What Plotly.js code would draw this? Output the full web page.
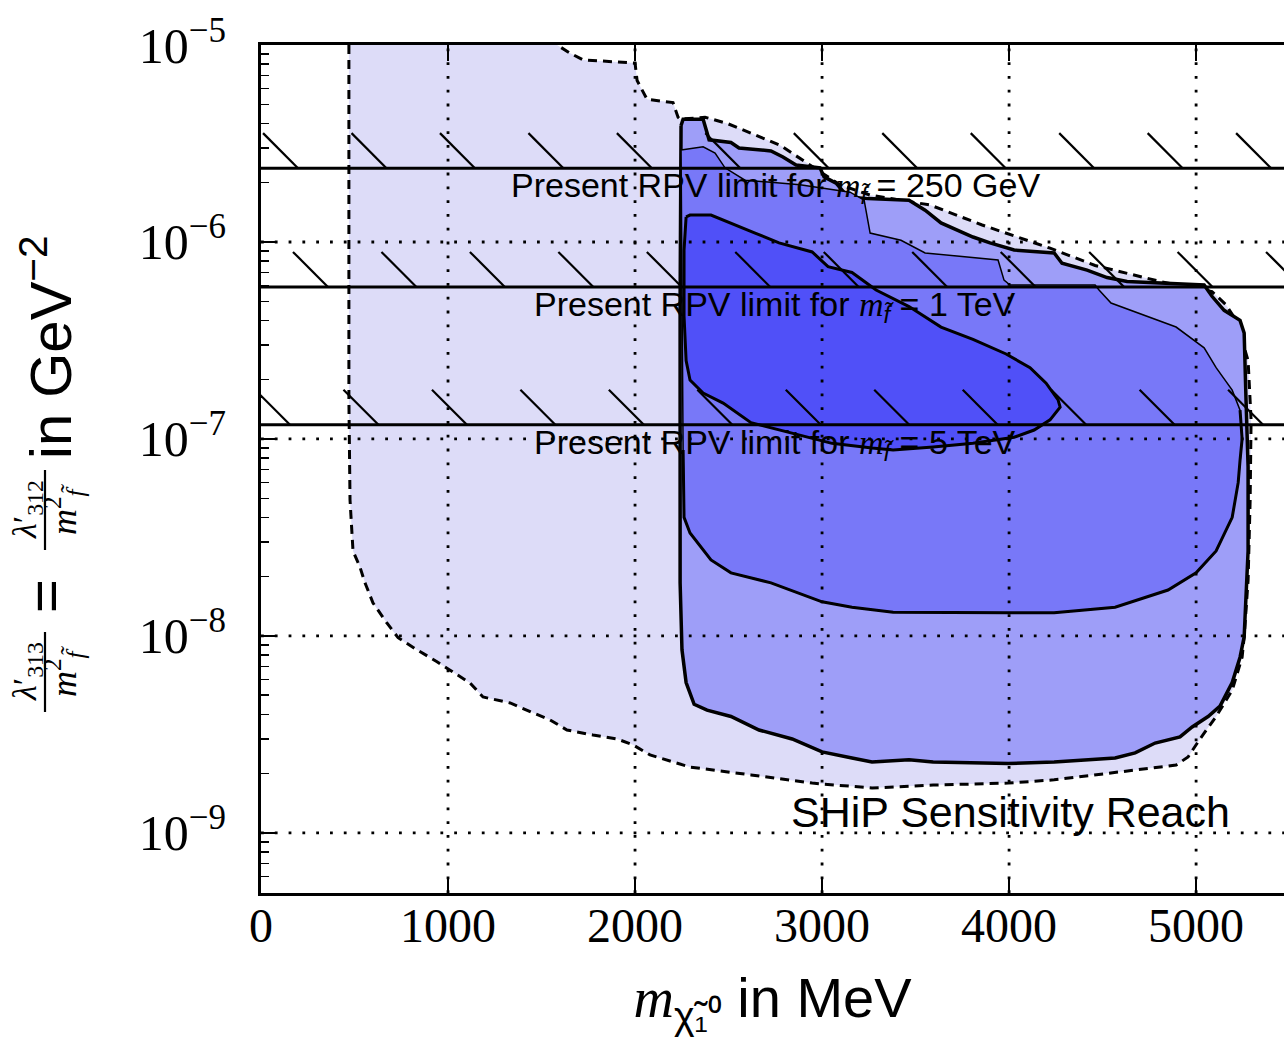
<!DOCTYPE html>
<html>
<head>
<meta charset="utf-8">
<script src="https://cdn.plot.ly/plotly-3.0.1.min.js"></script>
<style>html,body{margin:0;padding:0;background:#fff;overflow:hidden}</style>
</head>
<body>
<div id="chart" style="width:1284px;height:1043px"></div>
<script>
// ---------------- data ----------------
// SHiP sensitivity reach (outermost, dashed, lightest)
const reachX = [470,1560,1583,1652,1722,1904,2000,2011,2064,2203,2230,2241,2374,2492,2775,3096,3257,3578,3856,4219,4460,4808,5085,5160,5214,5278,5294,5289,5278,5257,5246,5193,5107,5021,4957,4893,4567,4241,3995,3594,3267,2947,2620,2294,2080,1989,1904,1775,1636,1545,1455,1332,1187,1118,1011,941,834,733,674,599,556,529,492,476,470,470];
const reachY = [1.2e-5,1.2e-5,1.0e-5,9.1e-6,8.4e-6,8.2e-6,8.1e-6,6.6e-6,5.3e-6,5.1e-6,4.3e-6,4.2e-6,4.3e-6,4.0e-6,3.1e-6,1.95e-6,1.73e-6,1.54e-6,1.22e-6,9.3e-7,7.6e-7,6.3e-7,5.6e-7,4.8e-7,4.0e-7,2.5e-7,1.25e-7,4.9e-8,1.92e-8,9.9e-9,7.8e-9,5.3e-9,3.9e-9,3.0e-9,2.43e-9,2.21e-9,2.02e-9,1.86e-9,1.79e-9,1.75e-9,1.69e-9,1.79e-9,1.97e-9,2.16e-9,2.49e-9,2.8e-9,3.0e-9,3.14e-9,3.33e-9,3.75e-9,4.07e-9,4.57e-9,4.9e-9,5.77e-9,6.7e-9,7.4e-9,8.5e-9,9.8e-9,1.16e-8,1.47e-8,1.86e-8,2.24e-8,2.7e-8,4.9e-8,1.58e-7,1.2e-5];

// outer solid contour
const outerX = [2246,2257,2364,2380,2396,2513,2556,2727,2791,2861,2989,3011,3075,3139,3246,3465,3551,3636,3722,3807,3898,4027,4241,4283,4417,4524,4631,4781,5043,5085,5150,5235,5257,5267,5278,5278,5257,5235,5193,5128,5064,4979,4914,4781,4674,4567,4241,3995,3594,3465,3267,3160,3000,2840,2663,2513,2385,2316,2273,2251,2241,2241,2246];
const outerY = [3.9e-6,4.2e-6,4.2e-6,3.7e-6,3.3e-6,3.2e-6,3.0e-6,2.9e-6,2.7e-6,2.46e-6,2.38e-6,2.14e-6,1.99e-6,1.69e-6,1.66e-6,1.63e-6,1.45e-6,1.25e-6,1.15e-6,1.06e-6,9.9e-7,9.1e-7,8.8e-7,7.8e-7,7.2e-7,6.6e-7,6.3e-7,6.2e-7,6.05e-7,5.3e-7,4.5e-7,4.0e-7,3.45e-7,1.58e-7,7.2e-8,2.7e-8,9.9e-9,7.8e-9,5.8e-9,4.4e-9,3.9e-9,3.45e-9,3.07e-9,2.86e-9,2.55e-9,2.4e-9,2.29e-9,2.25e-9,2.29e-9,2.35e-9,2.29e-9,2.4e-9,2.58e-9,3.0e-9,3.33e-9,3.9e-9,4.2e-9,4.5e-9,5.8e-9,8.5e-9,1.86e-8,5.1e-7,3.9e-6];

// middle contour
const midX = [2246,2364,2428,2481,2588,2882,3150,3225,3257,3422,3551,3941,3973,4005,4460,4481,4545,4674,4893,5043,5107,5193,5235,5246,5235,5225,5193,5107,5000,4850,4567,4241,3995,3594,3380,3160,3000,2727,2513,2406,2294,2262,2257,2246];
const midY = [2.93e-6,3.04e-6,2.83e-6,2.38e-6,2.06e-6,1.95e-6,1.79e-6,1.63e-6,1.11e-6,1.02e-6,8.8e-7,8.1e-7,6.4e-7,6.05e-7,6.05e-7,5.7e-7,4.9e-7,4.4e-7,3.7e-7,2.9e-7,2.3e-7,1.77e-7,1.4e-7,1.0e-7,7.8e-8,6.0e-8,4.0e-8,2.7e-8,2.09e-8,1.71e-8,1.40e-8,1.31e-8,1.31e-8,1.32e-8,1.32e-8,1.40e-8,1.49e-8,1.86e-8,2.09e-8,2.43e-8,3.33e-8,4.0e-8,8.8e-8,2.93e-6];

// inner contour
const innerX = [2273,2294,2406,2513,2642,2770,2947,3032,3160,3289,3465,3636,3807,3984,4112,4198,4262,4273,4219,4134,4027,3807,3594,3380,3267,3053,2840,2620,2471,2364,2294,2273,2262,2262,2273];
const innerY = [1.34e-6,1.37e-6,1.37e-6,1.25e-6,1.11e-6,9.9e-7,8.9e-7,7.5e-7,7.0e-7,5.7e-7,4.7e-7,3.7e-7,3.2e-7,2.7e-7,2.3e-7,1.92e-7,1.58e-7,1.45e-7,1.25e-7,1.11e-7,1.02e-7,9.5e-8,9.1e-8,8.8e-8,9.0e-8,9.5e-8,1.07e-7,1.21e-7,1.52e-7,1.71e-7,1.99e-7,2.5e-7,4.2e-7,9.1e-7,1.34e-6];

// present RPV limits
const limitValues = [2.37e-6, 5.91e-7, 1.18e-7];
const limitLabels = ['250 GeV', '1 TeV', '5 TeV'];

// ticks
const xTickVals = [0, 1000, 2000, 3000, 4000, 5000];
const xTickText = ['0', '1000', '2000', '3000', '4000', '5000'];
const yTickVals = [1e-9, 1e-8, 1e-7, 1e-6, 1e-5];
const yTickText = ['10<sup>\u22129</sup>', '10<sup>\u22128</sup>', '10<sup>\u22127</sup>', '10<sup>\u22126</sup>', '10<sup>\u22125</sup>'];

// ---------------- styles ----------------
const xMax = 5470;
const yLogRange = [-9.305, -5];
const colReach = '#dddcf8', colOuter = '#9e9ef8', colMid = '#7878f8', colInner = '#5050f8';
const hatchSpacing = 473, hatchWidth = 187, hatchRise = 0.178; // MeV, MeV, decades
const hatchPhase = [198, 358, 155];
const midThickStart = 22, midThickEnd = 43;
const serif = 'Liberation Serif, DejaVu Serif, serif';
const sans = 'Liberation Sans, Arial, sans-serif';
const serifM = '<span style="font-family:\'Liberation Serif\',serif"><i>m</i></span>';

// ---------------- traces ----------------
const traces = [];
traces.push({x: reachX, y: reachY, type: 'scatter', mode: 'lines', fill: 'toself', fillcolor: colReach,
  line: {color: 'black', width: 3, dash: '9px,6px'}, hoverinfo: 'skip'});
traces.push({x: outerX, y: outerY, type: 'scatter', mode: 'lines', fill: 'toself', fillcolor: colOuter,
  line: {color: 'black', width: 3.5}, hoverinfo: 'skip'});
traces.push({x: midX, y: midY, type: 'scatter', mode: 'lines', fill: 'toself', fillcolor: colMid,
  line: {color: 'black', width: 1.5}, hoverinfo: 'skip'});
traces.push({x: midX.slice(midThickStart, midThickEnd), y: midY.slice(midThickStart, midThickEnd), type: 'scatter', mode: 'lines',
  line: {color: 'black', width: 3}, hoverinfo: 'skip'});
traces.push({x: innerX, y: innerY, type: 'scatter', mode: 'lines', fill: 'toself', fillcolor: colInner,
  line: {color: 'black', width: 3}, hoverinfo: 'skip'});

// hatching above each limit line
const hx = [], hy = [];
limitValues.forEach((L, i) => {
  for (let end = hatchPhase[i] - hatchSpacing; end - hatchWidth < xMax; end += hatchSpacing) {
    hx.push(end - hatchWidth, end, null);
    hy.push(L * Math.pow(10, hatchRise), L, null);
  }
});
traces.push({x: hx, y: hy, type: 'scatter', mode: 'lines', line: {color: 'black', width: 2.2}, hoverinfo: 'skip'});

// ---------------- shapes ----------------
const shapes = [];
const gridLine = {color: 'black', width: 2.8, dash: '2.8px,11px'};
xTickVals.filter(v => v > 0).forEach(v => shapes.push({type: 'line', xref: 'x', yref: 'paper', x0: v, x1: v, y0: 0, y1: 1, line: gridLine, layer: 'above'}));
yTickVals.filter(v => v < 1e-5).forEach(v => shapes.push({type: 'line', xref: 'paper', yref: 'y', x0: 0, x1: 1, y0: v, y1: v, line: gridLine, layer: 'above'}));
limitValues.forEach(L => shapes.push({type: 'line', xref: 'paper', yref: 'y', x0: 0, x1: 1, y0: L, y1: L, line: {color: 'black', width: 3}, layer: 'above'}));

// ---------------- annotations ----------------
const px2paperX = p => (p - 261) / 1023;
const px2paperY = p => (893 - p) / 848;
const annotations = [];
limitValues.forEach((L, i) => annotations.push({
  text: 'Present RPV limit for ' + serifM + '<sub><i>f\u0303</i></sub> = ' + limitLabels[i],
  x: 2750, y: Math.log10(L), xref: 'x', yref: 'y', xanchor: 'center', yanchor: 'top', yshift: 4,
  showarrow: false, font: {size: 34, color: 'black', family: sans}
}));
annotations.push({text: 'SHiP Sensitivity Reach', x: 5193, y: -8.893, xref: 'x', yref: 'y', xanchor: 'right', yanchor: 'middle',
  showarrow: false, font: {size: 43, color: 'black', family: sans}});

// y-axis title built from pieces (stacked fractions)
function yt(text, px, py, size, fam) {
  annotations.push({text: text, x: px2paperX(px), y: px2paperY(py), xref: 'paper', yref: 'paper', textangle: -90,
    xanchor: 'center', yanchor: 'middle', showarrow: false, font: {size: size, color: 'black', family: fam}});
}
yt('in GeV<sup>\u22122</sup>', 46, 347, 58, sans);
yt('=', 45, 596, 58, sans);
const fracs = [{py: 510, sub: '312'}, {py: 672, sub: '313'}];
fracs.forEach(f => {
  yt('<i>\u03bb</i>\u2032<sub>' + f.sub + '</sub>', 27, f.py, 34, serif);
  yt('<i>m</i><sup>2</sup><sub><i>f\u0303</i></sub>', 64, f.py, 36, serif);
  shapes.push({type: 'line', xref: 'paper', yref: 'paper', x0: px2paperX(45), x1: px2paperX(45),
    y0: px2paperY(f.py + 40), y1: px2paperY(f.py - 40), line: {color: 'black', width: 2.2}});
});

const layout = {
  width: 1284, height: 1043,
  margin: {l: 261, r: 0, t: 45, b: 150, pad: 0},
  paper_bgcolor: 'white', plot_bgcolor: 'white',
  showlegend: false,
  font: {family: sans, color: 'black'},
  xaxis: {
    range: [0, xMax], tickmode: 'array', tickvals: xTickVals, ticktext: xTickText,
    ticks: 'inside', ticklen: 16, tickwidth: 2, tickcolor: 'black',
    showline: true, linewidth: 3, linecolor: 'black', mirror: 'ticks',
    showgrid: false, zeroline: false, layer: 'above traces',
    tickfont: {family: serif, size: 48, color: 'black'}, ticklabelstandoff: -12,
    title: {text: serifM + '<sub>\u03c7\u0303\u2081\u2070</sub> in MeV', font: {size: 56, family: sans, color: 'black'}, standoff: 28}
  },
  yaxis: {
    type: 'log', range: yLogRange, tickmode: 'array', tickvals: yTickVals, ticktext: yTickText,
    ticks: 'inside', ticklen: 16, tickwidth: 2, tickcolor: 'black',
    minor: {tickmode: 'array', tickvals: (() => { const m = []; for (let d = -10; d <= -6; d++) for (let k = 2; k <= 9; k++) m.push(k * Math.pow(10, d)); return m; })(),
      ticks: 'inside', ticklen: 8, tickwidth: 1.5, tickcolor: 'black', showgrid: false},
    showline: true, linewidth: 3, linecolor: 'black', mirror: false,
    showgrid: false, zeroline: false, layer: 'above traces',
    tickfont: {family: serif, size: 50, color: 'black'}, ticklabelstandoff: 22
  },
  shapes: shapes,
  annotations: annotations
};

Plotly.newPlot('chart', traces, layout, {staticPlot: true, displayModeBar: false});
</script>
</body>
</html>
